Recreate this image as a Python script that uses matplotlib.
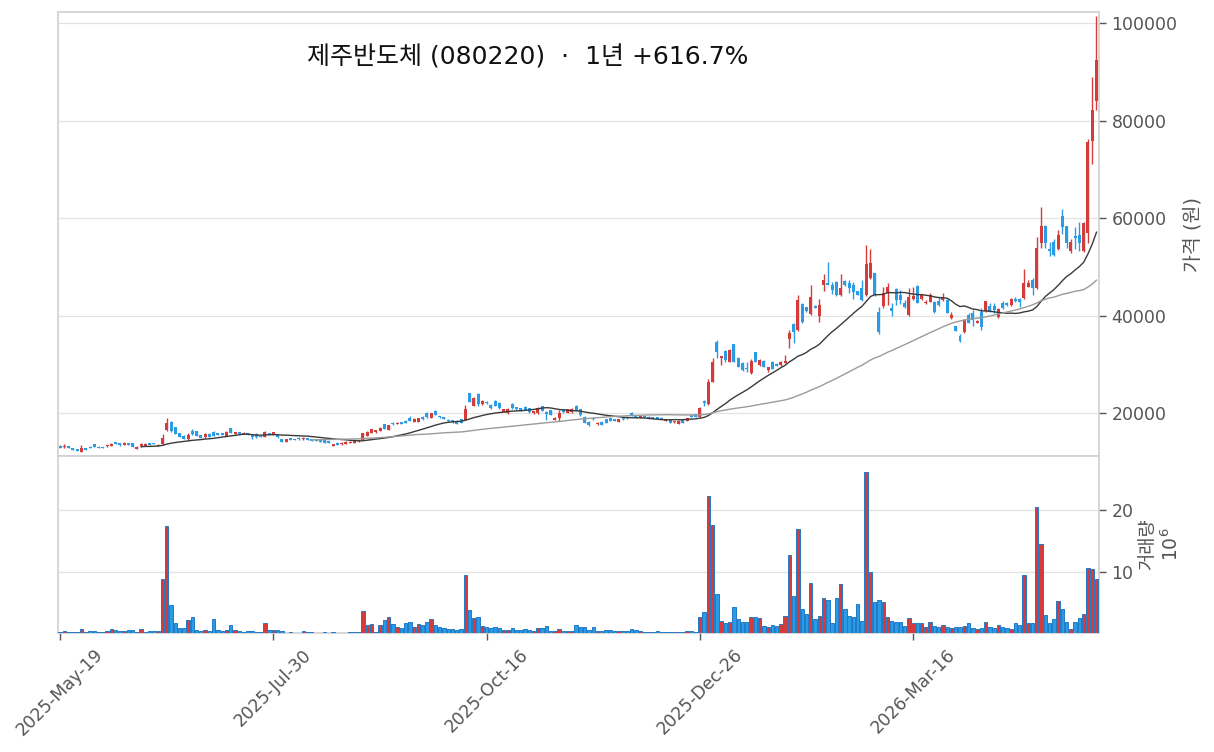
#!/usr/bin/env python3
import numpy as np
import pandas as pd
import matplotlib
matplotlib.use("Agg")
import matplotlib.pyplot as plt

# --- FONTS --------------------------------------------------------------
plt.rcParams['font.family'] = ['DejaVu Sans', 'Noto Sans CJK KR']

# --- DATA (daily OHLC in KRW, volume in millions of shares) -------------
START_DATE = "2025-05-19"
HOLIDAYS = [
    "2025-06-03", "2025-06-06", "2025-08-15", "2025-10-03", "2025-10-06",
    "2025-10-07", "2025-10-08", "2025-10-09", "2025-12-25", "2025-12-31",
    "2026-01-01", "2026-02-16", "2026-02-17", "2026-02-18", "2026-03-02",
    "2026-05-01", "2026-05-05",
]

opens = [
    13250, 12950, 13150, 12750, 12600, 12100, 12850, 13050, 13650, 13100,
    12950, 13150, 13300, 14050, 13850, 13500, 13900, 13850, 12700, 13300,
    13250, 13800, 13800, 13300, 13700, 16500, 18250, 17050, 15900, 15350,
    14700, 16300, 16250, 15450, 15000, 15700, 16200, 15850, 15850, 15300,
    16850, 15750, 16100, 15700, 15850, 15700, 15700, 15300, 15150, 15850,
    15630, 15430, 14670, 14130, 14880, 14680, 14950, 14610, 14880, 14670,
    14610, 14610, 14470, 14200, 13310, 13930, 13580, 13720, 13790, 13930,
    14200, 14470, 15290, 15840, 16040, 16380, 17680, 16520, 18020, 17820,
    18090, 18430, 19050, 18230, 18160, 19250, 20000, 19050, 20410, 19390,
    19120, 18640, 18570, 18430, 18700, 18570, 24030, 21500, 24000, 21850,
    22325, 21640, 22460, 22120, 20280, 19935, 21850, 21165, 20960, 21300,
    20960, 19935, 19935, 21440, 20280, 20620, 18570, 18910, 20755, 20070,
    20140, 21505, 20755, 19250, 18230, 18950, 17680, 18230, 18775, 18910,
    18705, 18230, 19050, 19250, 20070, 19590, 19050, 19390, 19250, 19115,
    19115, 19050, 18365, 18705, 18090, 17750, 18775, 18430, 19590, 19730,
    19250, 22400, 21800, 26400, 34550, 31350, 32700, 30550, 34100, 31300,
    30300, 29150, 28150, 32450, 29850, 30750, 28800, 30450, 30050, 29850,
    30300, 35100, 38250, 37000, 42350, 41650, 40300, 41950, 39900, 46250,
    46700, 46250, 46900, 44200, 47100, 46700, 46250, 45000, 45550, 44200,
    47600, 48750, 40800, 41950, 44700, 41600, 45350, 44300, 42630, 40100,
    43380, 46050, 43310, 42490, 42830, 42830, 43040, 43180, 43180, 39420,
    37850, 35800, 36690, 40100, 40445, 38530, 40790, 40920, 41950, 41950,
    39625, 42490, 42490, 42150, 43380, 43310, 43520, 45910, 47275, 45570,
    54800, 58350, 53700, 55000, 53575, 60400, 58350, 53200, 56300, 56510,
    53300, 56850, 75840, 84040,
]
highs = [
    13350, 13600, 13200, 12800, 12650, 13350, 12900, 13250, 13700, 13200,
    13000, 13450, 13800, 14100, 13900, 14000, 13950, 13900, 13150, 13900,
    13800, 13900, 13900, 13600, 15600, 18900, 18400, 17200, 16000, 15400,
    15800, 16650, 16400, 15500, 15800, 15800, 16400, 15950, 15950, 16300,
    16950, 16100, 16200, 16050, 15900, 15750, 15800, 15350, 16400, 15950,
    16200, 15500, 14750, 14700, 14950, 14750, 15050, 15000, 14950, 14750,
    14700, 14650, 14550, 14250, 13700, 14000, 13980, 14200, 14200, 14550,
    14550, 15900, 16400, 16800, 16600, 17200, 17800, 17600, 18100, 18100,
    18150, 18550, 19300, 18950, 19000, 19350, 20300, 20000, 20600, 19450,
    19200, 18700, 18650, 18500, 18800, 21700, 24150, 23200, 24100, 22600,
    22500, 21800, 22600, 22200, 20900, 21100, 22000, 21300, 21100, 21500,
    21050, 20500, 21200, 21500, 20350, 20700, 19150, 20600, 20900, 20850,
    21000, 21650, 20850, 19300, 18300, 19250, 18100, 18400, 18850, 19050,
    18800, 18800, 19150, 19350, 20200, 19650, 19500, 19450, 19300, 19200,
    19150, 19100, 18850, 18750, 18400, 18500, 18850, 19000, 19700, 19800,
    21200, 22700, 27000, 31300, 34950, 31750, 32900, 33100, 34200, 31500,
    30500, 30500, 31000, 32550, 31100, 30800, 29500, 30600, 30200, 30650,
    32000, 37000, 38400, 44300, 42500, 41800, 46250, 42100, 43400, 48600,
    50900, 46900, 47000, 48600, 47300, 47300, 46900, 45100, 47300, 54400,
    53550, 48800, 41800, 45900, 46600, 42500, 45550, 45200, 43200, 45550,
    45770, 46300, 44400, 43200, 44540, 43000, 43700, 44540, 43300, 40800,
    37950, 36200, 39300, 40500, 41100, 39100, 41470, 43040, 42490, 42490,
    41470, 43040, 42700, 43500, 43720, 43520, 49460, 47270, 47600, 56150,
    62300, 58550, 55150, 55800, 57540, 61770, 58400, 55600, 58080, 59250,
    59250, 76300, 88950, 101500,
]
lows = [
    12850, 12750, 12850, 12450, 12250, 12000, 12450, 12750, 13000, 12850,
    12800, 13100, 13250, 13550, 13300, 13450, 13450, 13050, 12650, 13100,
    13200, 13400, 13550, 13200, 13450, 16350, 16200, 15600, 15100, 14700,
    14450, 15550, 15250, 14900, 14950, 15050, 15300, 15500, 15400, 15250,
    15900, 15700, 15650, 15650, 15500, 14700, 14950, 15050, 15100, 15450,
    15550, 14950, 14000, 14050, 14400, 14400, 14550, 14550, 14400, 14300,
    14250, 14050, 13850, 13750, 13150, 13450, 13500, 13650, 13750, 13900,
    14150, 14400, 15200, 15800, 15950, 16300, 16650, 16450, 17600, 17750,
    17750, 17950, 18300, 18150, 18100, 18650, 19050, 19000, 19550, 19050,
    18700, 18250, 18050, 17750, 17900, 18500, 22250, 21400, 21500, 21700,
    21900, 20900, 21350, 20900, 20200, 19850, 20900, 20700, 20400, 20550,
    20050, 19850, 19850, 20400, 18600, 19500, 18500, 18300, 20050, 20000,
    20050, 20350, 19450, 17950, 17300, 18500, 17600, 17500, 17950, 18350,
    18300, 18150, 18650, 18850, 19300, 19050, 19000, 19050, 18700, 18800,
    18800, 18800, 18300, 17950, 18050, 17700, 17950, 18350, 19200, 19200,
    19150, 21400, 21600, 26300, 31200, 29850, 30500, 30400, 30400, 29400,
    28700, 28500, 28000, 30400, 29700, 29400, 28500, 29000, 29600, 29700,
    30200, 33300, 34300, 36800, 38500, 40800, 40200, 41500, 38700, 45100,
    46300, 44500, 44000, 44050, 46100, 44550, 43350, 44200, 42950, 44000,
    47500, 44000, 36200, 41450, 42150, 39900, 42150, 42350, 41450, 39900,
    43180, 42500, 43200, 42350, 42700, 40600, 42000, 43000, 40450, 39300,
    36800, 34600, 36500, 38400, 37750, 38400, 37050, 40800, 40650, 40445,
    39420, 41300, 42000, 42000, 42850, 41700, 43400, 45800, 44200, 45400,
    53800, 53800, 52200, 52200, 53400, 56700, 53800, 52900, 53600, 53300,
    53100, 54800, 71000, 82100,
]
closes = [
    12900, 13300, 12900, 12500, 12300, 12850, 12500, 12850, 13050, 12900,
    12850, 13350, 13700, 13600, 13350, 13900, 13500, 13100, 13100, 13550,
    13700, 13450, 13600, 13500, 14900, 17900, 16300, 15700, 15150, 14750,
    15500, 15700, 15300, 14950, 15700, 15100, 15350, 15550, 15450, 16200,
    15950, 16050, 15700, 15950, 15550, 15150, 15000, 15100, 16200, 15500,
    16100, 15020, 14060, 14610, 14470, 14470, 14610, 14950, 14470, 14330,
    14330, 14130, 13930, 13790, 13650, 13520, 13930, 14130, 14130, 14470,
    14470, 15840, 16180, 16650, 16520, 17000, 16730, 17540, 17680, 18020,
    17820, 18020, 18360, 18840, 18910, 18700, 19120, 19930, 19600, 19120,
    18770, 18300, 18090, 17820, 17950, 20820, 22325, 23010, 21800, 22460,
    21985, 20960, 21440, 20960, 20755, 20755, 20960, 20755, 20480, 20620,
    20140, 20410, 21100, 20480, 19730, 19590, 19050, 20070, 20140, 20755,
    20755, 20410, 19525, 18020, 17545, 18750, 18020, 17545, 18020, 18430,
    18365, 18705, 18705, 18910, 19390, 19115, 19390, 19115, 18775, 18840,
    18840, 18840, 18775, 18020, 18365, 18430, 18020, 18910, 19250, 19250,
    21000, 22000, 26300, 30500, 32600, 31700, 30900, 32950, 30550, 29500,
    28850, 28950, 30650, 30550, 30900, 29500, 29350, 29100, 29700, 30550,
    30600, 36500, 36700, 43150, 38750, 41000, 43850, 41600, 42150, 47250,
    46350, 45200, 44200, 45550, 46250, 45550, 44900, 44300, 43150, 50550,
    50800, 44200, 36700, 44550, 45750, 41000, 43150, 43150, 41810, 43720,
    44000, 42630, 44200, 42830, 44200, 40790, 42150, 43860, 40580, 40100,
    36890, 34780, 39080, 38530, 39080, 38900, 37710, 42970, 40790, 41130,
    41270, 41470, 42150, 43310, 42970, 42830, 46590, 46720, 45570, 53760,
    58350, 54800, 53300, 52400, 56510, 58220, 54800, 55000, 55950, 54940,
    58900, 75640, 82125, 92370,
]
volumes = [
    0.35, 0.45, 0.25, 0.25, 0.25, 0.75, 0.25, 0.45, 0.45, 0.25,
    0.25, 0.45, 0.75, 0.6, 0.45, 0.5, 0.6, 0.6, 0.25, 0.75,
    0.35, 0.45, 0.45, 0.45, 8.9, 17.4, 4.7, 1.7, 0.9, 0.9,
    2.25, 2.75, 0.6, 0.45, 0.6, 0.45, 2.4, 0.6, 0.45, 0.6,
    1.45, 0.6, 0.45, 0.25, 0.45, 0.45, 0.25, 0.25, 1.7, 0.6,
    0.6, 0.6, 0.45, 0.2, 0.25, 0.1, 0.1, 0.45, 0.25, 0.25,
    0.2, 0.2, 0.25, 0.2, 0.25, 0.2, 0.1, 0.1, 0.25, 0.3,
    0.3, 3.7, 1.4, 1.6, 0.3, 1.45, 2.26, 2.7, 1.55, 1.2,
    0.9, 1.7, 1.9, 1.2, 1.6, 1.45, 1.9, 2.4, 1.4, 1.05,
    0.9, 0.8, 0.8, 0.7, 0.8, 9.5, 3.87, 2.5, 2.7, 1.3,
    1.05, 0.9, 1.05, 0.9, 0.65, 0.65, 0.9, 0.65, 0.65, 0.75,
    0.65, 0.55, 0.9, 0.9, 1.3, 0.55, 0.55, 0.75, 0.5, 0.4,
    0.55, 1.45, 1.05, 1.05, 0.65, 1.05, 0.5, 0.5, 0.65, 0.65,
    0.5, 0.5, 0.5, 0.5, 0.75, 0.65, 0.4, 0.3, 0.3, 0.3,
    0.5, 0.3, 0.3, 0.3, 0.3, 0.3, 0.3, 0.5, 0.55, 0.3,
    2.7, 3.5, 22.3, 17.6, 6.5, 2.1, 1.7, 1.9, 4.3, 2.35,
    1.9, 1.9, 2.8, 2.8, 2.55, 1.3, 1.2, 1.4, 1.3, 1.6,
    2.9, 12.7, 6.2, 17.0, 4.0, 3.2, 8.3, 2.35, 2.9, 5.8,
    5.5, 1.7, 5.8, 8.1, 4.0, 2.9, 2.7, 4.8, 2.1, 26.2,
    10.0, 5.2, 5.5, 5.1, 2.8, 2.1, 2.0, 2.0, 1.3, 2.6,
    1.7, 1.8, 1.8, 1.1, 2.0, 1.3, 1.1, 1.4, 1.1, 0.9,
    1.1, 1.1, 1.3, 1.7, 0.9, 0.8, 1.0, 1.9, 1.2, 1.0,
    1.5, 1.2, 0.9, 0.8, 1.7, 1.4, 9.5, 1.8, 1.7, 20.4,
    14.5, 3.1, 1.8, 2.4, 5.3, 4.1, 1.9, 0.85, 1.9, 2.6,
    3.3, 10.6, 10.5, 8.8,
]

TITLE = "제주반도체 (080220)  ·  1년 +616.7%"
PRICE_LABEL = "가격 (원)"
VOLUME_LABEL = "거래량"
MAV = (20, 60)

# --- STYLE --------------------------------------------------------------
UP_COLOR   = "#d63b3b"
DOWN_COLOR = "#2b9be6"
VOL_EDGE   = "#1f7ac8"
GRID_COLOR = "#e3e3e3"
SPINE_COLOR = "#d0d0d0"
TEXT_COLOR = "#555555"

# --- PREP ---------------------------------------------------------------
o = np.array(opens, float)
h = np.array(highs, float)
l = np.array(lows, float)
c = np.array(closes, float)
v = np.array(volumes, float)
n = len(c)
x = np.arange(n)
dates = pd.bdate_range(START_DATE, periods=n, freq="C", holidays=HOLIDAYS)

up = c >= o
colors = np.where(up, UP_COLOR, DOWN_COLOR)

# --- FIGURE -------------------------------------------------------------
fig = plt.figure(figsize=(12.14, 7.52), dpi=100)
ax  = fig.add_axes([0.0478, 0.3936, 0.8575, 0.5904])
axv = fig.add_axes([0.0478, 0.1582, 0.8575, 0.2354], sharex=ax)

# candles
ax.vlines(x, l, h, colors=colors, linewidth=1.0, zorder=3)
body = np.abs(c - o)
ax.bar(x, body, bottom=np.minimum(o, c), width=0.7, color=colors,
       linewidth=0, zorder=4)

# moving averages
ma_colors = ["#3a3a3a", "#9a9a9a"]
for win, col in zip(MAV, ma_colors):
    ma = pd.Series(c).rolling(win).mean()
    ax.plot(x, ma, color=col, linewidth=1.0, zorder=5)

# volume
axv.bar(x, v, width=0.8, color=colors, edgecolor=VOL_EDGE,
        linewidth=0.7, zorder=3)

# --- AXES STYLING -------------------------------------------------------
ax.set_xlim(-0.5, n - 1 + 0.6)
ax.set_ylim(11180, 102260)
axv.set_ylim(0.15, 28.7)

for a in (ax, axv):
    a.yaxis.tick_right()
    a.yaxis.set_label_position("right")
    a.grid(axis="y", color=GRID_COLOR, linewidth=0.9)
    a.grid(axis="x", visible=False)
    a.set_axisbelow(True)
    for s in a.spines.values():
        s.set_color(SPINE_COLOR)
        s.set_linewidth(1.2)
    a.tick_params(axis="y", colors=TEXT_COLOR, labelsize=12.5,
                  length=5, width=1, direction="out", pad=4)

ax.set_yticks([20000, 40000, 60000, 80000, 100000])
ax.tick_params(axis="x", bottom=False, labelbottom=False)
axv.set_yticks([10, 20])

ticks = list(range(0, n, 50))
axv.set_xticks(ticks)
axv.set_xticklabels([dates[t].strftime("%Y-%b-%d") for t in ticks],
                    rotation=45, ha="center")
axv.tick_params(axis="x", colors=TEXT_COLOR, labelsize=12.5,
                length=5, width=1, pad=4)

ax.set_ylabel(PRICE_LABEL, color=TEXT_COLOR, fontsize=14, labelpad=4)
axv.set_ylabel(VOLUME_LABEL + "\n$10^{6}$", color=TEXT_COLOR,
               fontsize=13.5, labelpad=3, linespacing=1.2)

fig.text(0.435, 0.924, TITLE, ha="center", va="center", fontsize=18,
         color="#111111")

fig.savefig("out.png", dpi=100)
plt.close(fig)
